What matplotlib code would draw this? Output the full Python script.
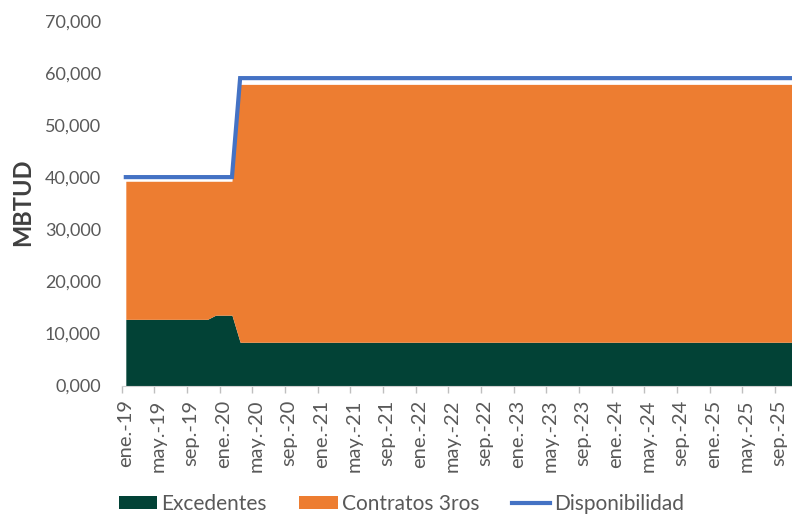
import numpy as np
import matplotlib.pyplot as plt

# monthly series, ene-19 .. dic-25
meses = ["ene", "feb", "mar", "abr", "may", "jun", "jul", "ago", "sep", "oct", "nov", "dic"]
anios = ["19", "20", "21", "22", "23", "24", "25"]
etiquetas = [m + ".-" + a for a in anios for m in meses]

excedentes = [12700] * 11 + [13500] * 3 + [8300] * 70
contratos = [26500] * 11 + [25700] * 3 + [49500] * 70
disponibilidad = [40000] * 14 + [59000] * 70

c_green = "#024236"
c_orange = "#ED7D31"
c_blue = "#4472C4"
c_text = "#595959"

plt.rcParams["font.family"] = ["Lato", "DejaVu Sans"]

fig = plt.figure(figsize=(7.92, 5.14), dpi=100)
ax = fig.add_axes([0.1537, 0.25, 0.866, 0.7095])

x = np.arange(len(etiquetas))
exc = np.array(excedentes)
tot = exc + np.array(contratos)

ax.fill_between(x, 0, exc, color=c_green, lw=0, label="Excedentes")
ax.fill_between(x, exc, tot, color=c_orange, lw=0, label="Contratos 3ros")
ax.plot(x, disponibilidad, color=c_blue, lw=3, label="Disponibilidad",
        solid_joinstyle="miter")

ax.set_xlim(-0.5, len(x) - 0.5)
ax.set_ylim(0, 70000)
ax.set_yticks(np.arange(0, 70001, 10000))
ax.set_yticklabels(["0,000"] + [f"{v:,}" for v in range(10000, 70001, 10000)])
ax.tick_params(axis="y", length=0, pad=15, labelsize=13, labelcolor=c_text)

# tick marks between categories, labels on categories
ax.set_xticks(np.arange(-0.5, len(x), 4))
ax.set_xticklabels([])
ax.tick_params(axis="x", which="major", length=5, color="#bfbfbf", width=1)
ax.set_xticks(x[::4], minor=True)
ax.set_xticklabels(etiquetas[::4], minor=True, rotation=90)
ax.tick_params(axis="x", which="minor", length=0, pad=10, labelsize=14.5,
               labelcolor=c_text)

for s in ["top", "right", "left"]:
    ax.spines[s].set_visible(False)
ax.spines["bottom"].set_color("#d0d0d0")

fig.text(0.028, 0.607, "MBTUD", rotation=90, fontsize=17, fontweight="bold",
         color="#404040", ha="center", va="center")

fig.legend(loc="center", bbox_to_anchor=(0.507, 0.02), ncol=3, frameon=False,
           fontsize=15, labelcolor=c_text, handlelength=1.85, handleheight=0.6,
           handletextpad=0.2, columnspacing=1.55)

fig.savefig("out.png", dpi=100)
